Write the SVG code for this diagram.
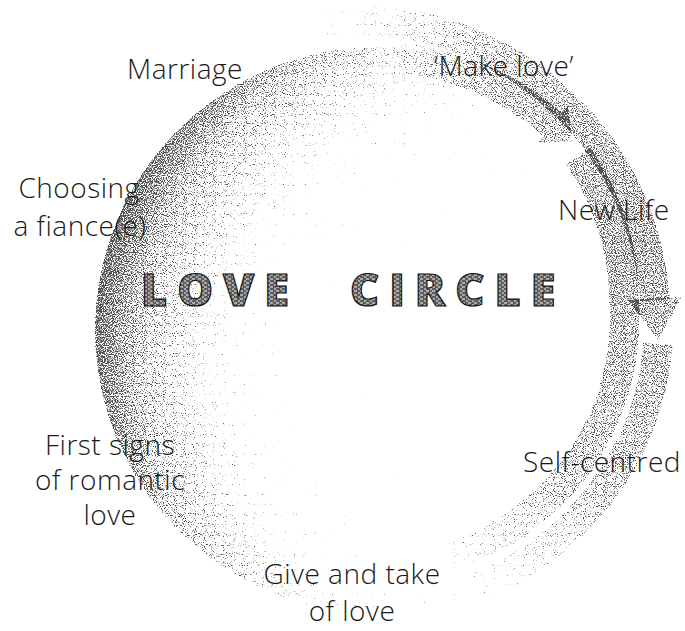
<svg xmlns="http://www.w3.org/2000/svg" width="685" height="631" viewBox="0 0 685 631">
<style>
.lbl{font-family:"Open Sans","Noto Sans","Liberation Sans",sans-serif;font-weight:300;font-size:28px;letter-spacing:0.5px;fill:#1a1a1a}
.mid{text-anchor:middle}
.title{font-family:"Open Sans","DejaVu Sans","Liberation Sans",sans-serif;font-weight:800;font-size:45px;letter-spacing:10px;fill:url(#hatch);stroke:#111;stroke-width:1.2}
.band{fill:none;stroke:url(#bandGrad);stroke-width:30}
.head{fill:url(#bandGrad)}
</style>
<defs>
<filter id="stip" x="-10%" y="-10%" width="120%" height="120%" color-interpolation-filters="sRGB">
<feTurbulence type="fractalNoise" baseFrequency="0.9" numOctaves="1" seed="7" result="t"/>
<feColorMatrix in="t" type="matrix" values="0 0 0 0 0  0 0 0 0 0  0 0 0 0 0  1.6 0 0 0 -0.3" result="n"/>
<feComposite in="SourceAlpha" in2="n" operator="arithmetic" k1="0" k2="5" k3="-5" k4="0" result="d"/>
<feFlood flood-color="#505050"/>
<feComposite in2="d" operator="in"/>
</filter>
<radialGradient id="discGrad" gradientUnits="userSpaceOnUse" cx="520" cy="370" r="430">
<stop offset="0" stop-color="#000" stop-opacity="0"/>
<stop offset="0.5" stop-color="#000" stop-opacity="0.02"/>
<stop offset="0.7" stop-color="#000" stop-opacity="0.2"/>
<stop offset="0.88" stop-color="#000" stop-opacity="0.45"/>
<stop offset="1" stop-color="#000" stop-opacity="0.7"/>
</radialGradient>
<radialGradient id="bandGrad" gradientUnits="userSpaceOnUse" cx="640" cy="250" r="400">
<stop offset="0" stop-color="#000" stop-opacity="0.55"/>
<stop offset="0.6" stop-color="#000" stop-opacity="0.45"/>
<stop offset="1" stop-color="#000" stop-opacity="0.12"/>
</radialGradient>
<pattern id="hatch" width="6" height="4" patternUnits="userSpaceOnUse">
<rect width="6" height="4" fill="#aaa"/>
<path d="M0 1h4M3 3h3" stroke="#111" stroke-width="1"/>
</pattern>
</defs>
<rect width="685" height="631" fill="#fff"/>
<g id="disc" filter="url(#stip)">
<circle cx="378" cy="330" r="283" fill="url(#discGrad)"/>
</g>
<g id="connectors" filter="url(#stip)">
<path class="band" d="M320 22 A300 300 0 0 1 655 300"/>
<polygon class="head" points="628,300 682,297 658,340"/>
<path class="band" d="M658 344 A285 285 0 0 1 468 590"/>
<path class="band" d="M400 58 A270 270 0 0 1 552 124"/>
<polygon class="head" points="568,105 536,143 572,142"/>
<path class="band" d="M578 156 A255 255 0 0 1 624 300 A250 250 0 0 1 452 556"/>
</g>
<g id="title">
<text class="title" x="141" y="306">LOVE</text>
<text class="title" x="350" y="306">CIRCLE</text>
</g>
<g id="marriage"><text class="lbl" x="127" y="79">Marriage</text></g>
<g id="make-love"><text class="lbl" x="434" y="76">‘Make love’</text></g>
<g id="new-life"><text class="lbl" x="558" y="220">New Life</text></g>
<g id="self-centred"><text class="lbl" x="523" y="472">Self-centred</text></g>
<g id="give-take"><text class="lbl mid" x="352" y="584">Give and take</text><text class="lbl mid" x="352" y="621">of love</text></g>
<g id="first-signs"><text class="lbl mid" x="110" y="455">First signs</text><text class="lbl mid" x="110" y="490">of romantic</text><text class="lbl mid" x="110" y="525">love</text></g>
<g id="choosing"><text class="lbl mid" x="79" y="198">Choosing</text><text class="lbl mid" x="80" y="236">a fiance(e)</text></g>
</svg>
